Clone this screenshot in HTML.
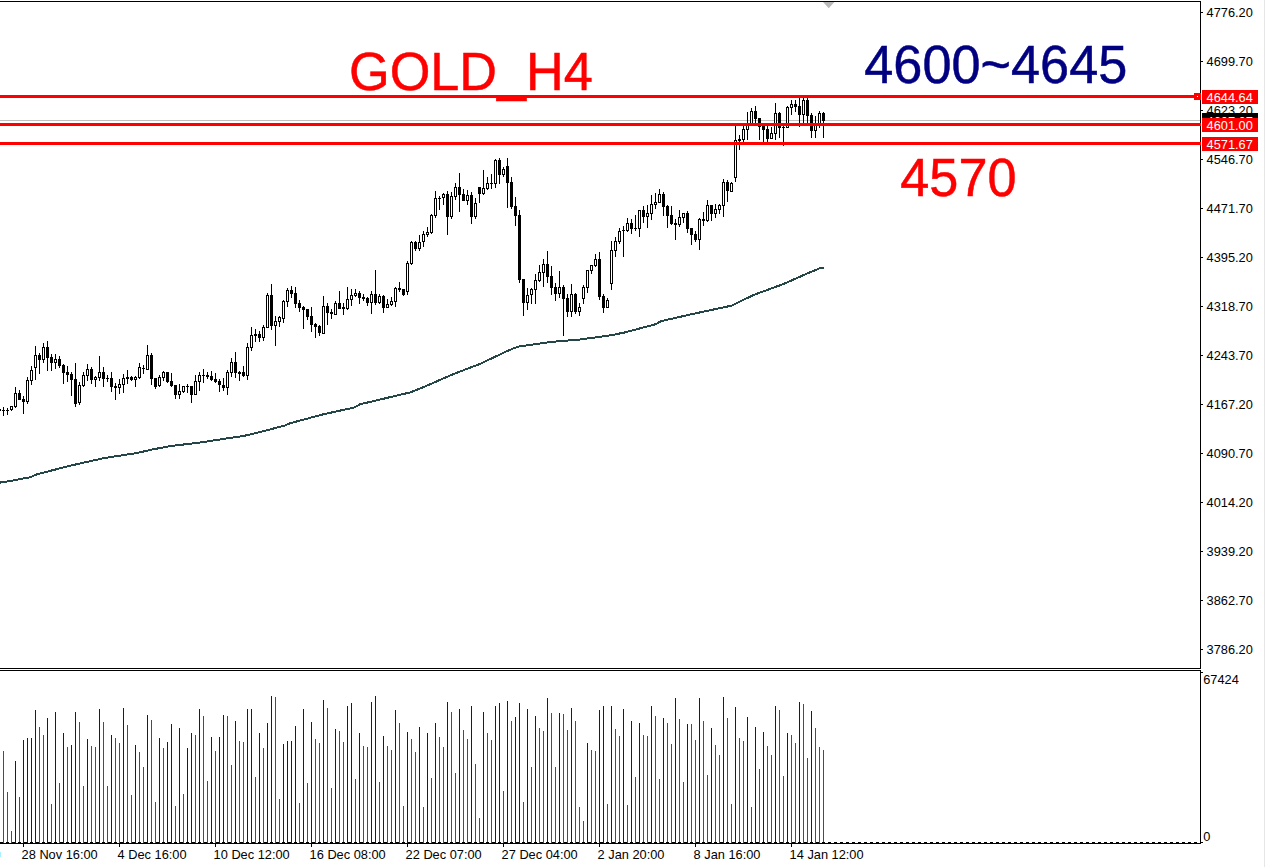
<!DOCTYPE html>
<html lang="en"><head><meta charset="utf-8"><title>GOLD_H4</title>
<style>html,body{margin:0;padding:0;background:#fff;overflow:hidden}svg{display:block}text{font-family:"Liberation Sans",Arial,sans-serif}.ax{font-size:12.8px;fill:#000}.lb{font-size:12.8px;fill:#fff}.big{font-size:54.1px}</style></head><body>
<svg width="1265" height="867" viewBox="0 0 1265 867">
<rect width="1265" height="867" fill="#fff"/>
<rect x="1264" y="0" width="1" height="867" fill="#e6e6e6" shape-rendering="crispEdges"/>
<g shape-rendering="crispEdges" fill="#000">
<rect x="0" y="1" width="1201" height="1"/>
<rect x="1200" y="1" width="1" height="668"/>
<rect x="0" y="668" width="1201" height="1"/>
<rect x="0" y="670" width="1201" height="1"/>
<rect x="1200" y="670" width="1" height="174"/>
<rect x="0" y="843" width="1201" height="1"/>
<rect x="1201" y="12" width="2" height="1"/>
<rect x="1201" y="61" width="2" height="1"/>
<rect x="1201" y="110" width="2" height="1"/>
<rect x="1201" y="159" width="2" height="1"/>
<rect x="1201" y="208" width="2" height="1"/>
<rect x="1201" y="257" width="2" height="1"/>
<rect x="1201" y="306" width="2" height="1"/>
<rect x="1201" y="355" width="2" height="1"/>
<rect x="1201" y="404" width="2" height="1"/>
<rect x="1201" y="453" width="2" height="1"/>
<rect x="1201" y="502" width="2" height="1"/>
<rect x="1201" y="551" width="2" height="1"/>
<rect x="1201" y="600" width="2" height="1"/>
<rect x="1201" y="649" width="2" height="1"/>
<rect x="1201" y="672" width="2" height="1"/>
<rect x="1201" y="842" width="2" height="1"/>
<rect x="23" y="844" width="1" height="3"/>
<rect x="119" y="844" width="1" height="3"/>
<rect x="215" y="844" width="1" height="3"/>
<rect x="311" y="844" width="1" height="3"/>
<rect x="407" y="844" width="1" height="3"/>
<rect x="503" y="844" width="1" height="3"/>
<rect x="599" y="844" width="1" height="3"/>
<rect x="695" y="844" width="1" height="3"/>
<rect x="791" y="844" width="1" height="3"/>
</g>
<rect x="0" y="120" width="1200" height="1" fill="#c0c0c0" shape-rendering="crispEdges"/>
<polygon points="823,2 834.5,2 828.7,8.3" fill="#b9b9b9"/>
<g shape-rendering="crispEdges">
<rect x="-1" y="409" width="1" height="2" fill="#000"/>
<rect x="-2" y="409" width="3" height="2" fill="#000"/>
<rect x="3" y="407" width="1" height="9" fill="#000"/>
<rect x="2" y="410" width="3" height="1" fill="#000"/>
<rect x="7" y="408" width="1" height="7" fill="#000"/>
<rect x="6" y="410" width="3" height="1" fill="#000"/>
<rect x="11" y="406" width="1" height="5" fill="#000"/>
<rect x="10" y="406" width="3" height="4" fill="#000"/>
<rect x="11" y="407" width="1" height="2" fill="#fff"/>
<rect x="15" y="387" width="1" height="21" fill="#000"/>
<rect x="14" y="393" width="3" height="14" fill="#000"/>
<rect x="15" y="394" width="1" height="12" fill="#fff"/>
<rect x="19" y="390" width="1" height="10" fill="#000"/>
<rect x="18" y="393" width="3" height="7" fill="#000"/>
<rect x="23" y="396" width="1" height="18" fill="#000"/>
<rect x="22" y="399" width="3" height="3" fill="#000"/>
<rect x="27" y="377" width="1" height="27" fill="#000"/>
<rect x="26" y="380" width="3" height="22" fill="#000"/>
<rect x="27" y="381" width="1" height="20" fill="#fff"/>
<rect x="31" y="366" width="1" height="19" fill="#000"/>
<rect x="30" y="370" width="3" height="11" fill="#000"/>
<rect x="31" y="371" width="1" height="9" fill="#fff"/>
<rect x="35" y="346" width="1" height="34" fill="#000"/>
<rect x="34" y="355" width="3" height="13" fill="#000"/>
<rect x="35" y="356" width="1" height="11" fill="#fff"/>
<rect x="39" y="353" width="1" height="21" fill="#000"/>
<rect x="38" y="355" width="3" height="5" fill="#000"/>
<rect x="43" y="343" width="1" height="20" fill="#000"/>
<rect x="42" y="347" width="3" height="13" fill="#000"/>
<rect x="43" y="348" width="1" height="11" fill="#fff"/>
<rect x="47" y="341" width="1" height="30" fill="#000"/>
<rect x="46" y="347" width="3" height="11" fill="#000"/>
<rect x="51" y="354" width="1" height="17" fill="#000"/>
<rect x="50" y="357" width="3" height="6" fill="#000"/>
<rect x="55" y="354" width="1" height="15" fill="#000"/>
<rect x="54" y="359" width="3" height="4" fill="#000"/>
<rect x="55" y="360" width="1" height="2" fill="#fff"/>
<rect x="59" y="356" width="1" height="12" fill="#000"/>
<rect x="58" y="359" width="3" height="7" fill="#000"/>
<rect x="63" y="364" width="1" height="20" fill="#000"/>
<rect x="62" y="365" width="3" height="8" fill="#000"/>
<rect x="67" y="366" width="1" height="16" fill="#000"/>
<rect x="66" y="372" width="3" height="3" fill="#000"/>
<rect x="71" y="372" width="1" height="24" fill="#000"/>
<rect x="70" y="374" width="3" height="6" fill="#000"/>
<rect x="75" y="363" width="1" height="44" fill="#000"/>
<rect x="74" y="379" width="3" height="25" fill="#000"/>
<rect x="79" y="382" width="1" height="23" fill="#000"/>
<rect x="78" y="385" width="3" height="18" fill="#000"/>
<rect x="79" y="386" width="1" height="16" fill="#fff"/>
<rect x="83" y="372" width="1" height="15" fill="#000"/>
<rect x="82" y="375" width="3" height="11" fill="#000"/>
<rect x="83" y="376" width="1" height="9" fill="#fff"/>
<rect x="87" y="364" width="1" height="17" fill="#000"/>
<rect x="86" y="369" width="3" height="7" fill="#000"/>
<rect x="87" y="370" width="1" height="5" fill="#fff"/>
<rect x="91" y="367" width="1" height="17" fill="#000"/>
<rect x="90" y="369" width="3" height="11" fill="#000"/>
<rect x="95" y="376" width="1" height="11" fill="#000"/>
<rect x="94" y="377" width="3" height="3" fill="#000"/>
<rect x="95" y="378" width="1" height="1" fill="#fff"/>
<rect x="99" y="356" width="1" height="25" fill="#000"/>
<rect x="98" y="372" width="3" height="6" fill="#000"/>
<rect x="99" y="373" width="1" height="4" fill="#fff"/>
<rect x="103" y="367" width="1" height="20" fill="#000"/>
<rect x="102" y="372" width="3" height="7" fill="#000"/>
<rect x="107" y="375" width="1" height="7" fill="#000"/>
<rect x="106" y="378" width="3" height="1" fill="#000"/>
<rect x="111" y="372" width="1" height="20" fill="#000"/>
<rect x="110" y="378" width="3" height="9" fill="#000"/>
<rect x="115" y="383" width="1" height="17" fill="#000"/>
<rect x="114" y="386" width="3" height="2" fill="#000"/>
<rect x="119" y="379" width="1" height="15" fill="#000"/>
<rect x="118" y="384" width="3" height="4" fill="#000"/>
<rect x="119" y="385" width="1" height="2" fill="#fff"/>
<rect x="123" y="374" width="1" height="19" fill="#000"/>
<rect x="122" y="378" width="3" height="7" fill="#000"/>
<rect x="123" y="379" width="1" height="5" fill="#fff"/>
<rect x="127" y="370" width="1" height="14" fill="#000"/>
<rect x="126" y="377" width="3" height="2" fill="#000"/>
<rect x="131" y="376" width="1" height="5" fill="#000"/>
<rect x="130" y="377" width="3" height="3" fill="#000"/>
<rect x="135" y="376" width="1" height="11" fill="#000"/>
<rect x="134" y="377" width="3" height="3" fill="#000"/>
<rect x="135" y="378" width="1" height="1" fill="#fff"/>
<rect x="139" y="363" width="1" height="16" fill="#000"/>
<rect x="138" y="367" width="3" height="11" fill="#000"/>
<rect x="139" y="368" width="1" height="9" fill="#fff"/>
<rect x="143" y="365" width="1" height="9" fill="#000"/>
<rect x="142" y="368" width="3" height="1" fill="#000"/>
<rect x="147" y="345" width="1" height="25" fill="#000"/>
<rect x="146" y="355" width="3" height="15" fill="#000"/>
<rect x="147" y="356" width="1" height="13" fill="#fff"/>
<rect x="151" y="353" width="1" height="32" fill="#000"/>
<rect x="150" y="355" width="3" height="24" fill="#000"/>
<rect x="155" y="378" width="1" height="11" fill="#000"/>
<rect x="154" y="378" width="3" height="9" fill="#000"/>
<rect x="159" y="375" width="1" height="12" fill="#000"/>
<rect x="158" y="377" width="3" height="9" fill="#000"/>
<rect x="159" y="378" width="1" height="7" fill="#fff"/>
<rect x="163" y="371" width="1" height="10" fill="#000"/>
<rect x="162" y="372" width="3" height="6" fill="#000"/>
<rect x="163" y="373" width="1" height="4" fill="#fff"/>
<rect x="167" y="372" width="1" height="11" fill="#000"/>
<rect x="166" y="372" width="3" height="10" fill="#000"/>
<rect x="171" y="373" width="1" height="14" fill="#000"/>
<rect x="170" y="381" width="3" height="5" fill="#000"/>
<rect x="175" y="385" width="1" height="14" fill="#000"/>
<rect x="174" y="385" width="3" height="10" fill="#000"/>
<rect x="179" y="384" width="1" height="15" fill="#000"/>
<rect x="178" y="391" width="3" height="4" fill="#000"/>
<rect x="179" y="392" width="1" height="2" fill="#fff"/>
<rect x="183" y="386" width="1" height="7" fill="#000"/>
<rect x="182" y="386" width="3" height="6" fill="#000"/>
<rect x="183" y="387" width="1" height="4" fill="#fff"/>
<rect x="187" y="384" width="1" height="9" fill="#000"/>
<rect x="186" y="386" width="3" height="1" fill="#000"/>
<rect x="191" y="386" width="1" height="17" fill="#000"/>
<rect x="190" y="386" width="3" height="9" fill="#000"/>
<rect x="195" y="375" width="1" height="20" fill="#000"/>
<rect x="194" y="381" width="3" height="14" fill="#000"/>
<rect x="195" y="382" width="1" height="12" fill="#fff"/>
<rect x="199" y="372" width="1" height="19" fill="#000"/>
<rect x="198" y="375" width="3" height="7" fill="#000"/>
<rect x="199" y="376" width="1" height="5" fill="#fff"/>
<rect x="203" y="369" width="1" height="14" fill="#000"/>
<rect x="202" y="375" width="3" height="1" fill="#000"/>
<rect x="207" y="372" width="1" height="7" fill="#000"/>
<rect x="206" y="375" width="3" height="2" fill="#000"/>
<rect x="211" y="371" width="1" height="10" fill="#000"/>
<rect x="210" y="376" width="3" height="4" fill="#000"/>
<rect x="215" y="373" width="1" height="10" fill="#000"/>
<rect x="214" y="379" width="3" height="3" fill="#000"/>
<rect x="219" y="379" width="1" height="13" fill="#000"/>
<rect x="218" y="381" width="3" height="4" fill="#000"/>
<rect x="223" y="378" width="1" height="13" fill="#000"/>
<rect x="222" y="385" width="3" height="3" fill="#000"/>
<rect x="227" y="370" width="1" height="25" fill="#000"/>
<rect x="226" y="372" width="3" height="16" fill="#000"/>
<rect x="227" y="373" width="1" height="14" fill="#fff"/>
<rect x="231" y="358" width="1" height="19" fill="#000"/>
<rect x="230" y="362" width="3" height="11" fill="#000"/>
<rect x="231" y="363" width="1" height="9" fill="#fff"/>
<rect x="235" y="352" width="1" height="26" fill="#000"/>
<rect x="234" y="362" width="3" height="11" fill="#000"/>
<rect x="239" y="371" width="1" height="10" fill="#000"/>
<rect x="238" y="372" width="3" height="2" fill="#000"/>
<rect x="243" y="366" width="1" height="11" fill="#000"/>
<rect x="242" y="372" width="3" height="4" fill="#000"/>
<rect x="247" y="343" width="1" height="37" fill="#000"/>
<rect x="246" y="347" width="3" height="29" fill="#000"/>
<rect x="247" y="348" width="1" height="27" fill="#fff"/>
<rect x="251" y="327" width="1" height="24" fill="#000"/>
<rect x="250" y="335" width="3" height="13" fill="#000"/>
<rect x="251" y="336" width="1" height="11" fill="#fff"/>
<rect x="255" y="329" width="1" height="13" fill="#000"/>
<rect x="254" y="334" width="3" height="2" fill="#000"/>
<rect x="259" y="331" width="1" height="11" fill="#000"/>
<rect x="258" y="334" width="3" height="4" fill="#000"/>
<rect x="263" y="325" width="1" height="16" fill="#000"/>
<rect x="262" y="327" width="3" height="11" fill="#000"/>
<rect x="263" y="328" width="1" height="9" fill="#fff"/>
<rect x="267" y="293" width="1" height="35" fill="#000"/>
<rect x="266" y="295" width="3" height="33" fill="#000"/>
<rect x="267" y="296" width="1" height="31" fill="#fff"/>
<rect x="271" y="284" width="1" height="46" fill="#000"/>
<rect x="270" y="295" width="3" height="31" fill="#000"/>
<rect x="275" y="316" width="1" height="30" fill="#000"/>
<rect x="274" y="321" width="3" height="5" fill="#000"/>
<rect x="275" y="322" width="1" height="3" fill="#fff"/>
<rect x="279" y="316" width="1" height="11" fill="#000"/>
<rect x="278" y="317" width="3" height="5" fill="#000"/>
<rect x="279" y="318" width="1" height="3" fill="#fff"/>
<rect x="283" y="300" width="1" height="23" fill="#000"/>
<rect x="282" y="301" width="3" height="18" fill="#000"/>
<rect x="283" y="302" width="1" height="16" fill="#fff"/>
<rect x="287" y="288" width="1" height="19" fill="#000"/>
<rect x="286" y="290" width="3" height="12" fill="#000"/>
<rect x="287" y="291" width="1" height="10" fill="#fff"/>
<rect x="291" y="286" width="1" height="12" fill="#000"/>
<rect x="290" y="290" width="3" height="4" fill="#000"/>
<rect x="295" y="287" width="1" height="21" fill="#000"/>
<rect x="294" y="293" width="3" height="11" fill="#000"/>
<rect x="299" y="300" width="1" height="12" fill="#000"/>
<rect x="298" y="303" width="3" height="5" fill="#000"/>
<rect x="303" y="306" width="1" height="23" fill="#000"/>
<rect x="302" y="307" width="3" height="3" fill="#000"/>
<rect x="307" y="309" width="1" height="11" fill="#000"/>
<rect x="306" y="309" width="3" height="8" fill="#000"/>
<rect x="311" y="307" width="1" height="25" fill="#000"/>
<rect x="310" y="316" width="3" height="9" fill="#000"/>
<rect x="315" y="323" width="1" height="15" fill="#000"/>
<rect x="314" y="324" width="3" height="3" fill="#000"/>
<rect x="319" y="325" width="1" height="11" fill="#000"/>
<rect x="318" y="326" width="3" height="7" fill="#000"/>
<rect x="323" y="296" width="1" height="38" fill="#000"/>
<rect x="322" y="306" width="3" height="28" fill="#000"/>
<rect x="323" y="307" width="1" height="26" fill="#fff"/>
<rect x="327" y="303" width="1" height="22" fill="#000"/>
<rect x="326" y="306" width="3" height="7" fill="#000"/>
<rect x="331" y="309" width="1" height="10" fill="#000"/>
<rect x="330" y="312" width="3" height="2" fill="#000"/>
<rect x="335" y="301" width="1" height="14" fill="#000"/>
<rect x="334" y="303" width="3" height="12" fill="#000"/>
<rect x="335" y="304" width="1" height="10" fill="#fff"/>
<rect x="339" y="291" width="1" height="18" fill="#000"/>
<rect x="338" y="303" width="3" height="6" fill="#000"/>
<rect x="343" y="303" width="1" height="12" fill="#000"/>
<rect x="342" y="307" width="3" height="2" fill="#000"/>
<rect x="347" y="287" width="1" height="23" fill="#000"/>
<rect x="346" y="299" width="3" height="10" fill="#000"/>
<rect x="347" y="300" width="1" height="8" fill="#fff"/>
<rect x="351" y="289" width="1" height="17" fill="#000"/>
<rect x="350" y="295" width="3" height="5" fill="#000"/>
<rect x="351" y="296" width="1" height="3" fill="#fff"/>
<rect x="355" y="289" width="1" height="8" fill="#000"/>
<rect x="354" y="293" width="3" height="3" fill="#000"/>
<rect x="355" y="294" width="1" height="1" fill="#fff"/>
<rect x="359" y="291" width="1" height="13" fill="#000"/>
<rect x="358" y="293" width="3" height="5" fill="#000"/>
<rect x="363" y="294" width="1" height="7" fill="#000"/>
<rect x="362" y="297" width="3" height="2" fill="#000"/>
<rect x="367" y="297" width="1" height="9" fill="#000"/>
<rect x="366" y="298" width="3" height="5" fill="#000"/>
<rect x="371" y="291" width="1" height="23" fill="#000"/>
<rect x="370" y="294" width="3" height="9" fill="#000"/>
<rect x="371" y="295" width="1" height="7" fill="#fff"/>
<rect x="375" y="270" width="1" height="35" fill="#000"/>
<rect x="374" y="294" width="3" height="9" fill="#000"/>
<rect x="379" y="294" width="1" height="10" fill="#000"/>
<rect x="378" y="296" width="3" height="7" fill="#000"/>
<rect x="379" y="297" width="1" height="5" fill="#fff"/>
<rect x="383" y="295" width="1" height="18" fill="#000"/>
<rect x="382" y="296" width="3" height="12" fill="#000"/>
<rect x="387" y="299" width="1" height="9" fill="#000"/>
<rect x="386" y="304" width="3" height="4" fill="#000"/>
<rect x="387" y="305" width="1" height="2" fill="#fff"/>
<rect x="391" y="297" width="1" height="9" fill="#000"/>
<rect x="390" y="301" width="3" height="4" fill="#000"/>
<rect x="391" y="302" width="1" height="2" fill="#fff"/>
<rect x="395" y="287" width="1" height="20" fill="#000"/>
<rect x="394" y="288" width="3" height="14" fill="#000"/>
<rect x="395" y="289" width="1" height="12" fill="#fff"/>
<rect x="399" y="282" width="1" height="10" fill="#000"/>
<rect x="398" y="288" width="3" height="2" fill="#000"/>
<rect x="403" y="289" width="1" height="7" fill="#000"/>
<rect x="402" y="289" width="3" height="6" fill="#000"/>
<rect x="407" y="261" width="1" height="34" fill="#000"/>
<rect x="406" y="263" width="3" height="29" fill="#000"/>
<rect x="407" y="264" width="1" height="27" fill="#fff"/>
<rect x="411" y="241" width="1" height="24" fill="#000"/>
<rect x="410" y="242" width="3" height="22" fill="#000"/>
<rect x="411" y="243" width="1" height="20" fill="#fff"/>
<rect x="415" y="241" width="1" height="10" fill="#000"/>
<rect x="414" y="242" width="3" height="7" fill="#000"/>
<rect x="419" y="235" width="1" height="16" fill="#000"/>
<rect x="418" y="242" width="3" height="7" fill="#000"/>
<rect x="419" y="243" width="1" height="5" fill="#fff"/>
<rect x="423" y="231" width="1" height="16" fill="#000"/>
<rect x="422" y="234" width="3" height="8" fill="#000"/>
<rect x="423" y="235" width="1" height="6" fill="#fff"/>
<rect x="427" y="227" width="1" height="10" fill="#000"/>
<rect x="426" y="232" width="3" height="3" fill="#000"/>
<rect x="427" y="233" width="1" height="1" fill="#fff"/>
<rect x="431" y="214" width="1" height="20" fill="#000"/>
<rect x="430" y="215" width="3" height="18" fill="#000"/>
<rect x="431" y="216" width="1" height="16" fill="#fff"/>
<rect x="435" y="191" width="1" height="27" fill="#000"/>
<rect x="434" y="198" width="3" height="18" fill="#000"/>
<rect x="435" y="199" width="1" height="16" fill="#fff"/>
<rect x="439" y="196" width="1" height="14" fill="#000"/>
<rect x="438" y="198" width="3" height="1" fill="#000"/>
<rect x="443" y="193" width="1" height="12" fill="#000"/>
<rect x="442" y="194" width="3" height="4" fill="#000"/>
<rect x="443" y="195" width="1" height="2" fill="#fff"/>
<rect x="447" y="191" width="1" height="44" fill="#000"/>
<rect x="446" y="194" width="3" height="23" fill="#000"/>
<rect x="451" y="192" width="1" height="27" fill="#000"/>
<rect x="450" y="196" width="3" height="21" fill="#000"/>
<rect x="451" y="197" width="1" height="19" fill="#fff"/>
<rect x="455" y="183" width="1" height="17" fill="#000"/>
<rect x="454" y="187" width="3" height="10" fill="#000"/>
<rect x="455" y="188" width="1" height="8" fill="#fff"/>
<rect x="459" y="173" width="1" height="39" fill="#000"/>
<rect x="458" y="187" width="3" height="8" fill="#000"/>
<rect x="463" y="189" width="1" height="12" fill="#000"/>
<rect x="462" y="194" width="3" height="7" fill="#000"/>
<rect x="467" y="190" width="1" height="15" fill="#000"/>
<rect x="466" y="195" width="3" height="6" fill="#000"/>
<rect x="467" y="196" width="1" height="4" fill="#fff"/>
<rect x="471" y="192" width="1" height="32" fill="#000"/>
<rect x="470" y="195" width="3" height="22" fill="#000"/>
<rect x="475" y="198" width="1" height="21" fill="#000"/>
<rect x="474" y="203" width="3" height="14" fill="#000"/>
<rect x="475" y="204" width="1" height="12" fill="#fff"/>
<rect x="479" y="187" width="1" height="16" fill="#000"/>
<rect x="478" y="187" width="3" height="7" fill="#000"/>
<rect x="483" y="170" width="1" height="25" fill="#000"/>
<rect x="482" y="188" width="3" height="6" fill="#000"/>
<rect x="483" y="189" width="1" height="4" fill="#fff"/>
<rect x="487" y="177" width="1" height="13" fill="#000"/>
<rect x="486" y="183" width="3" height="6" fill="#000"/>
<rect x="487" y="184" width="1" height="4" fill="#fff"/>
<rect x="491" y="174" width="1" height="15" fill="#000"/>
<rect x="490" y="183" width="3" height="1" fill="#000"/>
<rect x="495" y="159" width="1" height="29" fill="#000"/>
<rect x="494" y="160" width="3" height="24" fill="#000"/>
<rect x="495" y="161" width="1" height="22" fill="#fff"/>
<rect x="499" y="158" width="1" height="26" fill="#000"/>
<rect x="498" y="160" width="3" height="15" fill="#000"/>
<rect x="503" y="167" width="1" height="10" fill="#000"/>
<rect x="502" y="169" width="3" height="6" fill="#000"/>
<rect x="503" y="170" width="1" height="4" fill="#fff"/>
<rect x="507" y="158" width="1" height="50" fill="#000"/>
<rect x="506" y="166" width="3" height="17" fill="#000"/>
<rect x="511" y="177" width="1" height="32" fill="#000"/>
<rect x="510" y="182" width="3" height="25" fill="#000"/>
<rect x="515" y="197" width="1" height="29" fill="#000"/>
<rect x="514" y="206" width="3" height="10" fill="#000"/>
<rect x="519" y="210" width="1" height="73" fill="#000"/>
<rect x="518" y="215" width="3" height="65" fill="#000"/>
<rect x="523" y="279" width="1" height="37" fill="#000"/>
<rect x="522" y="279" width="3" height="24" fill="#000"/>
<rect x="527" y="288" width="1" height="22" fill="#000"/>
<rect x="526" y="295" width="3" height="8" fill="#000"/>
<rect x="527" y="296" width="1" height="6" fill="#fff"/>
<rect x="531" y="288" width="1" height="16" fill="#000"/>
<rect x="530" y="289" width="3" height="6" fill="#000"/>
<rect x="531" y="290" width="1" height="4" fill="#fff"/>
<rect x="535" y="274" width="1" height="30" fill="#000"/>
<rect x="534" y="280" width="3" height="10" fill="#000"/>
<rect x="535" y="281" width="1" height="8" fill="#fff"/>
<rect x="539" y="265" width="1" height="17" fill="#000"/>
<rect x="538" y="272" width="3" height="9" fill="#000"/>
<rect x="539" y="273" width="1" height="7" fill="#fff"/>
<rect x="543" y="259" width="1" height="28" fill="#000"/>
<rect x="542" y="264" width="3" height="9" fill="#000"/>
<rect x="543" y="265" width="1" height="7" fill="#fff"/>
<rect x="547" y="251" width="1" height="32" fill="#000"/>
<rect x="546" y="264" width="3" height="13" fill="#000"/>
<rect x="551" y="266" width="1" height="29" fill="#000"/>
<rect x="550" y="276" width="3" height="12" fill="#000"/>
<rect x="555" y="283" width="1" height="18" fill="#000"/>
<rect x="554" y="287" width="3" height="7" fill="#000"/>
<rect x="559" y="271" width="1" height="27" fill="#000"/>
<rect x="558" y="287" width="3" height="7" fill="#000"/>
<rect x="559" y="288" width="1" height="5" fill="#fff"/>
<rect x="563" y="285" width="1" height="51" fill="#000"/>
<rect x="562" y="287" width="3" height="12" fill="#000"/>
<rect x="567" y="294" width="1" height="23" fill="#000"/>
<rect x="566" y="298" width="3" height="14" fill="#000"/>
<rect x="571" y="284" width="1" height="33" fill="#000"/>
<rect x="570" y="294" width="3" height="18" fill="#000"/>
<rect x="571" y="295" width="1" height="16" fill="#fff"/>
<rect x="575" y="293" width="1" height="21" fill="#000"/>
<rect x="574" y="294" width="3" height="18" fill="#000"/>
<rect x="579" y="303" width="1" height="13" fill="#000"/>
<rect x="578" y="307" width="3" height="5" fill="#000"/>
<rect x="579" y="308" width="1" height="3" fill="#fff"/>
<rect x="583" y="285" width="1" height="19" fill="#000"/>
<rect x="582" y="287" width="3" height="12" fill="#000"/>
<rect x="583" y="288" width="1" height="10" fill="#fff"/>
<rect x="587" y="270" width="1" height="23" fill="#000"/>
<rect x="586" y="270" width="3" height="18" fill="#000"/>
<rect x="587" y="271" width="1" height="16" fill="#fff"/>
<rect x="591" y="265" width="1" height="9" fill="#000"/>
<rect x="590" y="265" width="3" height="6" fill="#000"/>
<rect x="591" y="266" width="1" height="4" fill="#fff"/>
<rect x="595" y="254" width="1" height="13" fill="#000"/>
<rect x="594" y="259" width="3" height="7" fill="#000"/>
<rect x="595" y="260" width="1" height="5" fill="#fff"/>
<rect x="599" y="252" width="1" height="48" fill="#000"/>
<rect x="598" y="259" width="3" height="38" fill="#000"/>
<rect x="603" y="294" width="1" height="19" fill="#000"/>
<rect x="602" y="296" width="3" height="12" fill="#000"/>
<rect x="607" y="298" width="1" height="10" fill="#000"/>
<rect x="606" y="300" width="3" height="8" fill="#000"/>
<rect x="607" y="301" width="1" height="6" fill="#fff"/>
<rect x="611" y="241" width="1" height="49" fill="#000"/>
<rect x="610" y="250" width="3" height="34" fill="#000"/>
<rect x="611" y="251" width="1" height="32" fill="#fff"/>
<rect x="615" y="237" width="1" height="20" fill="#000"/>
<rect x="614" y="241" width="3" height="10" fill="#000"/>
<rect x="615" y="242" width="1" height="8" fill="#fff"/>
<rect x="619" y="228" width="1" height="16" fill="#000"/>
<rect x="618" y="231" width="3" height="11" fill="#000"/>
<rect x="619" y="232" width="1" height="9" fill="#fff"/>
<rect x="623" y="226" width="1" height="31" fill="#000"/>
<rect x="622" y="230" width="3" height="1" fill="#000"/>
<rect x="627" y="218" width="1" height="14" fill="#000"/>
<rect x="626" y="223" width="3" height="8" fill="#000"/>
<rect x="627" y="224" width="1" height="6" fill="#fff"/>
<rect x="631" y="219" width="1" height="15" fill="#000"/>
<rect x="630" y="223" width="3" height="6" fill="#000"/>
<rect x="635" y="215" width="1" height="16" fill="#000"/>
<rect x="634" y="228" width="3" height="1" fill="#000"/>
<rect x="639" y="210" width="1" height="27" fill="#000"/>
<rect x="638" y="210" width="3" height="19" fill="#000"/>
<rect x="639" y="211" width="1" height="17" fill="#fff"/>
<rect x="643" y="206" width="1" height="17" fill="#000"/>
<rect x="642" y="210" width="3" height="7" fill="#000"/>
<rect x="647" y="205" width="1" height="23" fill="#000"/>
<rect x="646" y="213" width="3" height="4" fill="#000"/>
<rect x="647" y="214" width="1" height="2" fill="#fff"/>
<rect x="651" y="195" width="1" height="25" fill="#000"/>
<rect x="650" y="204" width="3" height="10" fill="#000"/>
<rect x="651" y="205" width="1" height="8" fill="#fff"/>
<rect x="655" y="193" width="1" height="16" fill="#000"/>
<rect x="654" y="202" width="3" height="3" fill="#000"/>
<rect x="655" y="203" width="1" height="1" fill="#fff"/>
<rect x="659" y="189" width="1" height="14" fill="#000"/>
<rect x="658" y="194" width="3" height="9" fill="#000"/>
<rect x="659" y="195" width="1" height="7" fill="#fff"/>
<rect x="663" y="192" width="1" height="24" fill="#000"/>
<rect x="662" y="194" width="3" height="13" fill="#000"/>
<rect x="667" y="205" width="1" height="23" fill="#000"/>
<rect x="666" y="206" width="3" height="10" fill="#000"/>
<rect x="671" y="206" width="1" height="19" fill="#000"/>
<rect x="670" y="215" width="3" height="9" fill="#000"/>
<rect x="675" y="219" width="1" height="21" fill="#000"/>
<rect x="674" y="223" width="3" height="2" fill="#000"/>
<rect x="679" y="210" width="1" height="17" fill="#000"/>
<rect x="678" y="217" width="3" height="8" fill="#000"/>
<rect x="679" y="218" width="1" height="6" fill="#fff"/>
<rect x="683" y="213" width="1" height="10" fill="#000"/>
<rect x="682" y="213" width="3" height="5" fill="#000"/>
<rect x="683" y="214" width="1" height="3" fill="#fff"/>
<rect x="687" y="211" width="1" height="22" fill="#000"/>
<rect x="686" y="213" width="3" height="16" fill="#000"/>
<rect x="691" y="228" width="1" height="17" fill="#000"/>
<rect x="690" y="228" width="3" height="7" fill="#000"/>
<rect x="695" y="231" width="1" height="11" fill="#000"/>
<rect x="694" y="234" width="3" height="6" fill="#000"/>
<rect x="699" y="218" width="1" height="32" fill="#000"/>
<rect x="698" y="219" width="3" height="21" fill="#000"/>
<rect x="699" y="220" width="1" height="19" fill="#fff"/>
<rect x="703" y="212" width="1" height="14" fill="#000"/>
<rect x="702" y="219" width="3" height="2" fill="#000"/>
<rect x="707" y="200" width="1" height="22" fill="#000"/>
<rect x="706" y="205" width="3" height="16" fill="#000"/>
<rect x="707" y="206" width="1" height="14" fill="#fff"/>
<rect x="711" y="205" width="1" height="16" fill="#000"/>
<rect x="710" y="205" width="3" height="9" fill="#000"/>
<rect x="715" y="204" width="1" height="14" fill="#000"/>
<rect x="714" y="209" width="3" height="5" fill="#000"/>
<rect x="715" y="210" width="1" height="3" fill="#fff"/>
<rect x="719" y="204" width="1" height="10" fill="#000"/>
<rect x="718" y="205" width="3" height="5" fill="#000"/>
<rect x="719" y="206" width="1" height="3" fill="#fff"/>
<rect x="723" y="179" width="1" height="38" fill="#000"/>
<rect x="722" y="182" width="3" height="24" fill="#000"/>
<rect x="723" y="183" width="1" height="22" fill="#fff"/>
<rect x="727" y="180" width="1" height="22" fill="#000"/>
<rect x="726" y="182" width="3" height="9" fill="#000"/>
<rect x="731" y="182" width="1" height="10" fill="#000"/>
<rect x="730" y="183" width="3" height="9" fill="#000"/>
<rect x="731" y="184" width="1" height="7" fill="#fff"/>
<rect x="735" y="126" width="1" height="56" fill="#000"/>
<rect x="734" y="140" width="3" height="38" fill="#000"/>
<rect x="735" y="141" width="1" height="36" fill="#fff"/>
<rect x="739" y="135" width="1" height="15" fill="#000"/>
<rect x="738" y="139" width="3" height="2" fill="#000"/>
<rect x="743" y="126" width="1" height="16" fill="#000"/>
<rect x="742" y="129" width="3" height="11" fill="#000"/>
<rect x="743" y="130" width="1" height="9" fill="#fff"/>
<rect x="747" y="112" width="1" height="28" fill="#000"/>
<rect x="746" y="123" width="3" height="7" fill="#000"/>
<rect x="747" y="124" width="1" height="5" fill="#fff"/>
<rect x="751" y="108" width="1" height="17" fill="#000"/>
<rect x="750" y="111" width="3" height="13" fill="#000"/>
<rect x="751" y="112" width="1" height="11" fill="#fff"/>
<rect x="755" y="106" width="1" height="17" fill="#000"/>
<rect x="754" y="111" width="3" height="8" fill="#000"/>
<rect x="759" y="118" width="1" height="22" fill="#000"/>
<rect x="758" y="118" width="3" height="9" fill="#000"/>
<rect x="763" y="124" width="1" height="18" fill="#000"/>
<rect x="762" y="125" width="3" height="5" fill="#000"/>
<rect x="767" y="126" width="1" height="16" fill="#000"/>
<rect x="766" y="129" width="3" height="10" fill="#000"/>
<rect x="771" y="127" width="1" height="12" fill="#000"/>
<rect x="770" y="133" width="3" height="6" fill="#000"/>
<rect x="771" y="134" width="1" height="4" fill="#fff"/>
<rect x="775" y="103" width="1" height="37" fill="#000"/>
<rect x="774" y="113" width="3" height="21" fill="#000"/>
<rect x="775" y="114" width="1" height="19" fill="#fff"/>
<rect x="779" y="112" width="1" height="26" fill="#000"/>
<rect x="778" y="113" width="3" height="15" fill="#000"/>
<rect x="783" y="125" width="1" height="21" fill="#000"/>
<rect x="782" y="127" width="3" height="1" fill="#000"/>
<rect x="787" y="106" width="1" height="22" fill="#000"/>
<rect x="786" y="107" width="3" height="21" fill="#000"/>
<rect x="787" y="108" width="1" height="19" fill="#fff"/>
<rect x="791" y="100" width="1" height="15" fill="#000"/>
<rect x="790" y="104" width="3" height="4" fill="#000"/>
<rect x="791" y="105" width="1" height="2" fill="#fff"/>
<rect x="795" y="100" width="1" height="12" fill="#000"/>
<rect x="794" y="104" width="3" height="3" fill="#000"/>
<rect x="799" y="96" width="1" height="31" fill="#000"/>
<rect x="798" y="106" width="3" height="9" fill="#000"/>
<rect x="803" y="96" width="1" height="27" fill="#000"/>
<rect x="802" y="100" width="3" height="15" fill="#000"/>
<rect x="803" y="101" width="1" height="13" fill="#fff"/>
<rect x="807" y="96" width="1" height="27" fill="#000"/>
<rect x="806" y="100" width="3" height="16" fill="#000"/>
<rect x="811" y="113" width="1" height="25" fill="#000"/>
<rect x="810" y="115" width="3" height="16" fill="#000"/>
<rect x="815" y="116" width="1" height="22" fill="#000"/>
<rect x="814" y="123" width="3" height="8" fill="#000"/>
<rect x="815" y="124" width="1" height="6" fill="#fff"/>
<rect x="819" y="111" width="1" height="17" fill="#000"/>
<rect x="818" y="113" width="3" height="11" fill="#000"/>
<rect x="819" y="114" width="1" height="9" fill="#fff"/>
<rect x="823" y="112" width="1" height="26" fill="#000"/>
<rect x="822" y="113" width="3" height="8" fill="#000"/>
</g>
<g shape-rendering="crispEdges">
<rect x="3" y="751" width="1" height="92" fill="#ff0000"/>
<rect x="7" y="792" width="1" height="51" fill="#ff0000"/>
<rect x="11" y="831" width="1" height="12" fill="#ff0000"/>
<rect x="15" y="761" width="1" height="82" fill="#0000ff"/>
<rect x="19" y="797" width="1" height="46" fill="#ff0000"/>
<rect x="23" y="740" width="1" height="103" fill="#0000ff"/>
<rect x="27" y="738" width="1" height="105" fill="#0000ff"/>
<rect x="31" y="738" width="1" height="105" fill="#0000ff"/>
<rect x="35" y="710" width="1" height="133" fill="#0000ff"/>
<rect x="39" y="727" width="1" height="116" fill="#ff0000"/>
<rect x="43" y="735" width="1" height="108" fill="#ff0000"/>
<rect x="47" y="718" width="1" height="125" fill="#0000ff"/>
<rect x="51" y="804" width="1" height="39" fill="#ff0000"/>
<rect x="55" y="712" width="1" height="131" fill="#0000ff"/>
<rect x="59" y="783" width="1" height="60" fill="#ff0000"/>
<rect x="63" y="733" width="1" height="110" fill="#0000ff"/>
<rect x="67" y="747" width="1" height="96" fill="#ff0000"/>
<rect x="71" y="745" width="1" height="98" fill="#0000ff"/>
<rect x="75" y="712" width="1" height="131" fill="#0000ff"/>
<rect x="79" y="722" width="1" height="121" fill="#ff0000"/>
<rect x="83" y="786" width="1" height="57" fill="#ff0000"/>
<rect x="87" y="739" width="1" height="104" fill="#0000ff"/>
<rect x="91" y="746" width="1" height="97" fill="#ff0000"/>
<rect x="95" y="747" width="1" height="96" fill="#ff0000"/>
<rect x="99" y="709" width="1" height="134" fill="#0000ff"/>
<rect x="103" y="722" width="1" height="121" fill="#ff0000"/>
<rect x="107" y="786" width="1" height="57" fill="#ff0000"/>
<rect x="111" y="735" width="1" height="108" fill="#0000ff"/>
<rect x="115" y="738" width="1" height="105" fill="#ff0000"/>
<rect x="119" y="743" width="1" height="100" fill="#ff0000"/>
<rect x="123" y="708" width="1" height="135" fill="#0000ff"/>
<rect x="127" y="725" width="1" height="118" fill="#ff0000"/>
<rect x="131" y="795" width="1" height="48" fill="#ff0000"/>
<rect x="135" y="745" width="1" height="98" fill="#0000ff"/>
<rect x="139" y="752" width="1" height="91" fill="#ff0000"/>
<rect x="143" y="767" width="1" height="76" fill="#ff0000"/>
<rect x="147" y="715" width="1" height="128" fill="#0000ff"/>
<rect x="151" y="720" width="1" height="123" fill="#ff0000"/>
<rect x="155" y="802" width="1" height="41" fill="#ff0000"/>
<rect x="159" y="738" width="1" height="105" fill="#0000ff"/>
<rect x="163" y="748" width="1" height="95" fill="#ff0000"/>
<rect x="167" y="742" width="1" height="101" fill="#0000ff"/>
<rect x="171" y="724" width="1" height="119" fill="#0000ff"/>
<rect x="175" y="806" width="1" height="37" fill="#ff0000"/>
<rect x="179" y="728" width="1" height="115" fill="#0000ff"/>
<rect x="183" y="794" width="1" height="49" fill="#ff0000"/>
<rect x="187" y="748" width="1" height="95" fill="#0000ff"/>
<rect x="191" y="733" width="1" height="110" fill="#0000ff"/>
<rect x="195" y="735" width="1" height="108" fill="#ff0000"/>
<rect x="199" y="709" width="1" height="134" fill="#0000ff"/>
<rect x="203" y="716" width="1" height="127" fill="#ff0000"/>
<rect x="207" y="781" width="1" height="62" fill="#ff0000"/>
<rect x="211" y="737" width="1" height="106" fill="#0000ff"/>
<rect x="215" y="751" width="1" height="92" fill="#ff0000"/>
<rect x="219" y="737" width="1" height="106" fill="#0000ff"/>
<rect x="223" y="715" width="1" height="128" fill="#0000ff"/>
<rect x="227" y="716" width="1" height="127" fill="#ff0000"/>
<rect x="231" y="765" width="1" height="78" fill="#ff0000"/>
<rect x="235" y="721" width="1" height="122" fill="#0000ff"/>
<rect x="239" y="741" width="1" height="102" fill="#ff0000"/>
<rect x="243" y="742" width="1" height="101" fill="#ff0000"/>
<rect x="247" y="709" width="1" height="134" fill="#0000ff"/>
<rect x="251" y="709" width="1" height="134" fill="#0000ff"/>
<rect x="255" y="777" width="1" height="66" fill="#ff0000"/>
<rect x="259" y="733" width="1" height="110" fill="#0000ff"/>
<rect x="263" y="748" width="1" height="95" fill="#ff0000"/>
<rect x="267" y="723" width="1" height="120" fill="#0000ff"/>
<rect x="271" y="696" width="1" height="147" fill="#0000ff"/>
<rect x="275" y="697" width="1" height="146" fill="#ff0000"/>
<rect x="279" y="799" width="1" height="44" fill="#ff0000"/>
<rect x="283" y="744" width="1" height="99" fill="#0000ff"/>
<rect x="287" y="741" width="1" height="102" fill="#0000ff"/>
<rect x="291" y="741" width="1" height="102" fill="#0000ff"/>
<rect x="295" y="726" width="1" height="117" fill="#0000ff"/>
<rect x="299" y="803" width="1" height="40" fill="#ff0000"/>
<rect x="303" y="709" width="1" height="134" fill="#0000ff"/>
<rect x="307" y="783" width="1" height="60" fill="#ff0000"/>
<rect x="311" y="722" width="1" height="121" fill="#0000ff"/>
<rect x="315" y="739" width="1" height="104" fill="#ff0000"/>
<rect x="319" y="743" width="1" height="100" fill="#ff0000"/>
<rect x="323" y="700" width="1" height="143" fill="#0000ff"/>
<rect x="327" y="708" width="1" height="135" fill="#ff0000"/>
<rect x="331" y="788" width="1" height="55" fill="#ff0000"/>
<rect x="335" y="729" width="1" height="114" fill="#0000ff"/>
<rect x="339" y="731" width="1" height="112" fill="#ff0000"/>
<rect x="343" y="742" width="1" height="101" fill="#ff0000"/>
<rect x="347" y="706" width="1" height="137" fill="#0000ff"/>
<rect x="351" y="703" width="1" height="140" fill="#0000ff"/>
<rect x="355" y="779" width="1" height="64" fill="#ff0000"/>
<rect x="359" y="733" width="1" height="110" fill="#0000ff"/>
<rect x="363" y="746" width="1" height="97" fill="#ff0000"/>
<rect x="367" y="747" width="1" height="96" fill="#ff0000"/>
<rect x="371" y="702" width="1" height="141" fill="#0000ff"/>
<rect x="375" y="696" width="1" height="147" fill="#0000ff"/>
<rect x="379" y="782" width="1" height="61" fill="#ff0000"/>
<rect x="383" y="736" width="1" height="107" fill="#0000ff"/>
<rect x="387" y="746" width="1" height="97" fill="#ff0000"/>
<rect x="391" y="750" width="1" height="93" fill="#ff0000"/>
<rect x="395" y="710" width="1" height="133" fill="#0000ff"/>
<rect x="399" y="723" width="1" height="120" fill="#ff0000"/>
<rect x="403" y="806" width="1" height="37" fill="#ff0000"/>
<rect x="407" y="732" width="1" height="111" fill="#0000ff"/>
<rect x="411" y="739" width="1" height="104" fill="#ff0000"/>
<rect x="415" y="752" width="1" height="91" fill="#ff0000"/>
<rect x="419" y="727" width="1" height="116" fill="#0000ff"/>
<rect x="423" y="807" width="1" height="36" fill="#ff0000"/>
<rect x="427" y="733" width="1" height="110" fill="#0000ff"/>
<rect x="431" y="778" width="1" height="65" fill="#ff0000"/>
<rect x="435" y="723" width="1" height="120" fill="#0000ff"/>
<rect x="439" y="737" width="1" height="106" fill="#ff0000"/>
<rect x="443" y="747" width="1" height="96" fill="#ff0000"/>
<rect x="447" y="702" width="1" height="141" fill="#0000ff"/>
<rect x="451" y="712" width="1" height="131" fill="#ff0000"/>
<rect x="455" y="773" width="1" height="70" fill="#ff0000"/>
<rect x="459" y="709" width="1" height="134" fill="#0000ff"/>
<rect x="463" y="730" width="1" height="113" fill="#ff0000"/>
<rect x="467" y="739" width="1" height="104" fill="#ff0000"/>
<rect x="471" y="706" width="1" height="137" fill="#0000ff"/>
<rect x="475" y="764" width="1" height="79" fill="#ff0000"/>
<rect x="479" y="818" width="1" height="25" fill="#ff0000"/>
<rect x="483" y="712" width="1" height="131" fill="#0000ff"/>
<rect x="487" y="733" width="1" height="110" fill="#ff0000"/>
<rect x="491" y="740" width="1" height="103" fill="#ff0000"/>
<rect x="495" y="706" width="1" height="137" fill="#0000ff"/>
<rect x="499" y="703" width="1" height="140" fill="#0000ff"/>
<rect x="503" y="791" width="1" height="52" fill="#ff0000"/>
<rect x="507" y="701" width="1" height="142" fill="#0000ff"/>
<rect x="511" y="721" width="1" height="122" fill="#ff0000"/>
<rect x="515" y="717" width="1" height="126" fill="#0000ff"/>
<rect x="519" y="703" width="1" height="140" fill="#0000ff"/>
<rect x="523" y="802" width="1" height="41" fill="#ff0000"/>
<rect x="527" y="709" width="1" height="134" fill="#0000ff"/>
<rect x="531" y="767" width="1" height="76" fill="#ff0000"/>
<rect x="535" y="716" width="1" height="127" fill="#0000ff"/>
<rect x="539" y="728" width="1" height="115" fill="#ff0000"/>
<rect x="543" y="731" width="1" height="112" fill="#ff0000"/>
<rect x="547" y="698" width="1" height="145" fill="#0000ff"/>
<rect x="551" y="713" width="1" height="130" fill="#ff0000"/>
<rect x="555" y="767" width="1" height="76" fill="#ff0000"/>
<rect x="559" y="713" width="1" height="130" fill="#0000ff"/>
<rect x="563" y="714" width="1" height="129" fill="#ff0000"/>
<rect x="567" y="730" width="1" height="113" fill="#ff0000"/>
<rect x="571" y="708" width="1" height="135" fill="#0000ff"/>
<rect x="575" y="721" width="1" height="122" fill="#ff0000"/>
<rect x="579" y="807" width="1" height="36" fill="#ff0000"/>
<rect x="583" y="821" width="1" height="22" fill="#ff0000"/>
<rect x="587" y="743" width="1" height="100" fill="#0000ff"/>
<rect x="591" y="750" width="1" height="93" fill="#ff0000"/>
<rect x="595" y="751" width="1" height="92" fill="#ff0000"/>
<rect x="599" y="710" width="1" height="133" fill="#0000ff"/>
<rect x="603" y="706" width="1" height="137" fill="#0000ff"/>
<rect x="607" y="804" width="1" height="39" fill="#ff0000"/>
<rect x="611" y="706" width="1" height="137" fill="#0000ff"/>
<rect x="615" y="729" width="1" height="114" fill="#ff0000"/>
<rect x="619" y="736" width="1" height="107" fill="#ff0000"/>
<rect x="623" y="709" width="1" height="134" fill="#0000ff"/>
<rect x="627" y="805" width="1" height="38" fill="#ff0000"/>
<rect x="631" y="721" width="1" height="122" fill="#0000ff"/>
<rect x="635" y="777" width="1" height="66" fill="#ff0000"/>
<rect x="639" y="723" width="1" height="120" fill="#0000ff"/>
<rect x="643" y="735" width="1" height="108" fill="#ff0000"/>
<rect x="647" y="736" width="1" height="107" fill="#ff0000"/>
<rect x="651" y="706" width="1" height="137" fill="#0000ff"/>
<rect x="655" y="716" width="1" height="127" fill="#ff0000"/>
<rect x="659" y="779" width="1" height="64" fill="#ff0000"/>
<rect x="663" y="718" width="1" height="125" fill="#0000ff"/>
<rect x="667" y="723" width="1" height="120" fill="#ff0000"/>
<rect x="671" y="744" width="1" height="99" fill="#ff0000"/>
<rect x="675" y="698" width="1" height="145" fill="#0000ff"/>
<rect x="679" y="719" width="1" height="124" fill="#ff0000"/>
<rect x="683" y="782" width="1" height="61" fill="#ff0000"/>
<rect x="687" y="724" width="1" height="119" fill="#0000ff"/>
<rect x="691" y="724" width="1" height="119" fill="#ff0000"/>
<rect x="695" y="740" width="1" height="103" fill="#ff0000"/>
<rect x="699" y="698" width="1" height="145" fill="#0000ff"/>
<rect x="703" y="721" width="1" height="122" fill="#ff0000"/>
<rect x="707" y="775" width="1" height="68" fill="#ff0000"/>
<rect x="711" y="728" width="1" height="115" fill="#0000ff"/>
<rect x="715" y="745" width="1" height="98" fill="#ff0000"/>
<rect x="719" y="755" width="1" height="88" fill="#ff0000"/>
<rect x="723" y="697" width="1" height="146" fill="#0000ff"/>
<rect x="727" y="718" width="1" height="125" fill="#ff0000"/>
<rect x="731" y="804" width="1" height="39" fill="#ff0000"/>
<rect x="735" y="707" width="1" height="136" fill="#0000ff"/>
<rect x="739" y="738" width="1" height="105" fill="#ff0000"/>
<rect x="743" y="741" width="1" height="102" fill="#ff0000"/>
<rect x="747" y="717" width="1" height="126" fill="#0000ff"/>
<rect x="751" y="807" width="1" height="36" fill="#ff0000"/>
<rect x="755" y="727" width="1" height="116" fill="#0000ff"/>
<rect x="759" y="769" width="1" height="74" fill="#ff0000"/>
<rect x="763" y="732" width="1" height="111" fill="#0000ff"/>
<rect x="767" y="746" width="1" height="97" fill="#ff0000"/>
<rect x="771" y="755" width="1" height="88" fill="#ff0000"/>
<rect x="775" y="706" width="1" height="137" fill="#0000ff"/>
<rect x="779" y="710" width="1" height="133" fill="#ff0000"/>
<rect x="783" y="776" width="1" height="67" fill="#ff0000"/>
<rect x="787" y="733" width="1" height="110" fill="#0000ff"/>
<rect x="791" y="735" width="1" height="108" fill="#ff0000"/>
<rect x="795" y="743" width="1" height="100" fill="#ff0000"/>
<rect x="799" y="702" width="1" height="141" fill="#0000ff"/>
<rect x="803" y="704" width="1" height="139" fill="#ff0000"/>
<rect x="807" y="758" width="1" height="85" fill="#ff0000"/>
<rect x="811" y="711" width="1" height="132" fill="#0000ff"/>
<rect x="815" y="728" width="1" height="115" fill="#ff0000"/>
<rect x="819" y="747" width="1" height="96" fill="#ff0000"/>
<rect x="823" y="750" width="1" height="93" fill="#ff0000"/>
</g>
<g shape-rendering="crispEdges" fill="#000">
<rect x="0" y="842" width="3" height="1"/>
<rect x="6" y="842" width="3" height="1"/>
<rect x="12" y="842" width="3" height="1"/>
<rect x="18" y="842" width="3" height="1"/>
<rect x="24" y="842" width="3" height="1"/>
<rect x="30" y="842" width="3" height="1"/>
<rect x="36" y="842" width="3" height="1"/>
<rect x="42" y="842" width="3" height="1"/>
<rect x="48" y="842" width="3" height="1"/>
<rect x="54" y="842" width="3" height="1"/>
<rect x="60" y="842" width="3" height="1"/>
<rect x="66" y="842" width="3" height="1"/>
<rect x="72" y="842" width="3" height="1"/>
<rect x="78" y="842" width="3" height="1"/>
<rect x="84" y="842" width="3" height="1"/>
<rect x="90" y="842" width="3" height="1"/>
<rect x="96" y="842" width="3" height="1"/>
<rect x="102" y="842" width="3" height="1"/>
<rect x="108" y="842" width="3" height="1"/>
<rect x="114" y="842" width="3" height="1"/>
<rect x="120" y="842" width="3" height="1"/>
<rect x="126" y="842" width="3" height="1"/>
<rect x="132" y="842" width="3" height="1"/>
<rect x="138" y="842" width="3" height="1"/>
<rect x="144" y="842" width="3" height="1"/>
<rect x="150" y="842" width="3" height="1"/>
<rect x="156" y="842" width="3" height="1"/>
<rect x="162" y="842" width="3" height="1"/>
<rect x="168" y="842" width="3" height="1"/>
<rect x="174" y="842" width="3" height="1"/>
<rect x="180" y="842" width="3" height="1"/>
<rect x="186" y="842" width="3" height="1"/>
<rect x="192" y="842" width="3" height="1"/>
<rect x="198" y="842" width="3" height="1"/>
<rect x="204" y="842" width="3" height="1"/>
<rect x="210" y="842" width="3" height="1"/>
<rect x="216" y="842" width="3" height="1"/>
<rect x="222" y="842" width="3" height="1"/>
<rect x="228" y="842" width="3" height="1"/>
<rect x="234" y="842" width="3" height="1"/>
<rect x="240" y="842" width="3" height="1"/>
<rect x="246" y="842" width="3" height="1"/>
<rect x="252" y="842" width="3" height="1"/>
<rect x="258" y="842" width="3" height="1"/>
<rect x="264" y="842" width="3" height="1"/>
<rect x="270" y="842" width="3" height="1"/>
<rect x="276" y="842" width="3" height="1"/>
<rect x="282" y="842" width="3" height="1"/>
<rect x="288" y="842" width="3" height="1"/>
<rect x="294" y="842" width="3" height="1"/>
<rect x="300" y="842" width="3" height="1"/>
<rect x="306" y="842" width="3" height="1"/>
<rect x="312" y="842" width="3" height="1"/>
<rect x="318" y="842" width="3" height="1"/>
<rect x="324" y="842" width="3" height="1"/>
<rect x="330" y="842" width="3" height="1"/>
<rect x="336" y="842" width="3" height="1"/>
<rect x="342" y="842" width="3" height="1"/>
<rect x="348" y="842" width="3" height="1"/>
<rect x="354" y="842" width="3" height="1"/>
<rect x="360" y="842" width="3" height="1"/>
<rect x="366" y="842" width="3" height="1"/>
<rect x="372" y="842" width="3" height="1"/>
<rect x="378" y="842" width="3" height="1"/>
<rect x="384" y="842" width="3" height="1"/>
<rect x="390" y="842" width="3" height="1"/>
<rect x="396" y="842" width="3" height="1"/>
<rect x="402" y="842" width="3" height="1"/>
<rect x="408" y="842" width="3" height="1"/>
<rect x="414" y="842" width="3" height="1"/>
<rect x="420" y="842" width="3" height="1"/>
<rect x="426" y="842" width="3" height="1"/>
<rect x="432" y="842" width="3" height="1"/>
<rect x="438" y="842" width="3" height="1"/>
<rect x="444" y="842" width="3" height="1"/>
<rect x="450" y="842" width="3" height="1"/>
<rect x="456" y="842" width="3" height="1"/>
<rect x="462" y="842" width="3" height="1"/>
<rect x="468" y="842" width="3" height="1"/>
<rect x="474" y="842" width="3" height="1"/>
<rect x="480" y="842" width="3" height="1"/>
<rect x="486" y="842" width="3" height="1"/>
<rect x="492" y="842" width="3" height="1"/>
<rect x="498" y="842" width="3" height="1"/>
<rect x="504" y="842" width="3" height="1"/>
<rect x="510" y="842" width="3" height="1"/>
<rect x="516" y="842" width="3" height="1"/>
<rect x="522" y="842" width="3" height="1"/>
<rect x="528" y="842" width="3" height="1"/>
<rect x="534" y="842" width="3" height="1"/>
<rect x="540" y="842" width="3" height="1"/>
<rect x="546" y="842" width="3" height="1"/>
<rect x="552" y="842" width="3" height="1"/>
<rect x="558" y="842" width="3" height="1"/>
<rect x="564" y="842" width="3" height="1"/>
<rect x="570" y="842" width="3" height="1"/>
<rect x="576" y="842" width="3" height="1"/>
<rect x="582" y="842" width="3" height="1"/>
<rect x="588" y="842" width="3" height="1"/>
<rect x="594" y="842" width="3" height="1"/>
<rect x="600" y="842" width="3" height="1"/>
<rect x="606" y="842" width="3" height="1"/>
<rect x="612" y="842" width="3" height="1"/>
<rect x="618" y="842" width="3" height="1"/>
<rect x="624" y="842" width="3" height="1"/>
<rect x="630" y="842" width="3" height="1"/>
<rect x="636" y="842" width="3" height="1"/>
<rect x="642" y="842" width="3" height="1"/>
<rect x="648" y="842" width="3" height="1"/>
<rect x="654" y="842" width="3" height="1"/>
<rect x="660" y="842" width="3" height="1"/>
<rect x="666" y="842" width="3" height="1"/>
<rect x="672" y="842" width="3" height="1"/>
<rect x="678" y="842" width="3" height="1"/>
<rect x="684" y="842" width="3" height="1"/>
<rect x="690" y="842" width="3" height="1"/>
<rect x="696" y="842" width="3" height="1"/>
<rect x="702" y="842" width="3" height="1"/>
<rect x="708" y="842" width="3" height="1"/>
<rect x="714" y="842" width="3" height="1"/>
<rect x="720" y="842" width="3" height="1"/>
<rect x="726" y="842" width="3" height="1"/>
<rect x="732" y="842" width="3" height="1"/>
<rect x="738" y="842" width="3" height="1"/>
<rect x="744" y="842" width="3" height="1"/>
<rect x="750" y="842" width="3" height="1"/>
<rect x="756" y="842" width="3" height="1"/>
<rect x="762" y="842" width="3" height="1"/>
<rect x="768" y="842" width="3" height="1"/>
<rect x="774" y="842" width="3" height="1"/>
<rect x="780" y="842" width="3" height="1"/>
<rect x="786" y="842" width="3" height="1"/>
<rect x="792" y="842" width="3" height="1"/>
<rect x="798" y="842" width="3" height="1"/>
<rect x="804" y="842" width="3" height="1"/>
<rect x="810" y="842" width="3" height="1"/>
<rect x="816" y="842" width="3" height="1"/>
<rect x="822" y="842" width="3" height="1"/>
<rect x="828" y="842" width="3" height="1"/>
<rect x="834" y="842" width="3" height="1"/>
<rect x="840" y="842" width="3" height="1"/>
<rect x="846" y="842" width="3" height="1"/>
<rect x="852" y="842" width="3" height="1"/>
<rect x="858" y="842" width="3" height="1"/>
<rect x="864" y="842" width="3" height="1"/>
<rect x="870" y="842" width="3" height="1"/>
<rect x="876" y="842" width="3" height="1"/>
<rect x="882" y="842" width="3" height="1"/>
<rect x="888" y="842" width="3" height="1"/>
<rect x="894" y="842" width="3" height="1"/>
<rect x="900" y="842" width="3" height="1"/>
<rect x="906" y="842" width="3" height="1"/>
<rect x="912" y="842" width="3" height="1"/>
<rect x="918" y="842" width="3" height="1"/>
<rect x="924" y="842" width="3" height="1"/>
<rect x="930" y="842" width="3" height="1"/>
<rect x="936" y="842" width="3" height="1"/>
<rect x="942" y="842" width="3" height="1"/>
<rect x="948" y="842" width="3" height="1"/>
<rect x="954" y="842" width="3" height="1"/>
<rect x="960" y="842" width="3" height="1"/>
<rect x="966" y="842" width="3" height="1"/>
<rect x="972" y="842" width="3" height="1"/>
<rect x="978" y="842" width="3" height="1"/>
<rect x="984" y="842" width="3" height="1"/>
<rect x="990" y="842" width="3" height="1"/>
<rect x="996" y="842" width="3" height="1"/>
<rect x="1002" y="842" width="3" height="1"/>
<rect x="1008" y="842" width="3" height="1"/>
<rect x="1014" y="842" width="3" height="1"/>
<rect x="1020" y="842" width="3" height="1"/>
<rect x="1026" y="842" width="3" height="1"/>
<rect x="1032" y="842" width="3" height="1"/>
<rect x="1038" y="842" width="3" height="1"/>
<rect x="1044" y="842" width="3" height="1"/>
<rect x="1050" y="842" width="3" height="1"/>
<rect x="1056" y="842" width="3" height="1"/>
<rect x="1062" y="842" width="3" height="1"/>
<rect x="1068" y="842" width="3" height="1"/>
<rect x="1074" y="842" width="3" height="1"/>
<rect x="1080" y="842" width="3" height="1"/>
<rect x="1086" y="842" width="3" height="1"/>
<rect x="1092" y="842" width="3" height="1"/>
<rect x="1098" y="842" width="3" height="1"/>
<rect x="1104" y="842" width="3" height="1"/>
<rect x="1110" y="842" width="3" height="1"/>
<rect x="1116" y="842" width="3" height="1"/>
<rect x="1122" y="842" width="3" height="1"/>
<rect x="1128" y="842" width="3" height="1"/>
<rect x="1134" y="842" width="3" height="1"/>
<rect x="1140" y="842" width="3" height="1"/>
<rect x="1146" y="842" width="3" height="1"/>
<rect x="1152" y="842" width="3" height="1"/>
<rect x="1158" y="842" width="3" height="1"/>
<rect x="1164" y="842" width="3" height="1"/>
<rect x="1170" y="842" width="3" height="1"/>
<rect x="1176" y="842" width="3" height="1"/>
<rect x="1182" y="842" width="3" height="1"/>
<rect x="1188" y="842" width="3" height="1"/>
<rect x="1194" y="842" width="3" height="1"/>
</g>
<polyline points="0,482.6 10.7,480.90000000000003 30.8,477.1 36.8,474.3 71,465.5 104,458.1 137.5,452.90000000000003 151.8,449.6 170.7,446.0 199,442.70000000000005 225,438.70000000000005 244,435.90000000000003 265.6,430.6 284.6,425.6 290,423.3 323.2,414.3 354,407.6 360,404.3 411,392.20000000000005 425,386.5 453.6,374.0 479.7,364.0 508,350.70000000000005 517.7,346.70000000000005 550.9,341.90000000000003 580,339.5 610.8,335.3 625,332.40000000000003 655.9,324.1 660.6,321.3 691.5,314.20000000000005 731.8,305.6 753,295.20000000000005 784,283.8 805.3,274.3 819.5,268.40000000000003 823.8,268.40000000000003" fill="none" stroke="#244646" stroke-width="2" stroke-linejoin="round" shape-rendering="crispEdges"/>
<g shape-rendering="crispEdges" fill="#ff0000">
<rect x="0" y="95" width="1201" height="3"/>
<rect x="0" y="123" width="1201" height="3"/>
<rect x="0" y="142" width="1201" height="3"/>
<rect x="1194" y="93" width="7" height="7"/>
</g>
<rect x="1197" y="96" width="1" height="1" fill="#fff" shape-rendering="crispEdges"/>
<text class="ax" x="1206.6" y="16.8">4776.20</text>
<text class="ax" x="1206.6" y="65.8">4699.70</text>
<text class="ax" x="1206.6" y="114.8">4623.20</text>
<text class="ax" x="1206.6" y="163.8">4546.70</text>
<text class="ax" x="1206.6" y="212.8">4471.70</text>
<text class="ax" x="1206.6" y="261.8">4395.20</text>
<text class="ax" x="1206.6" y="310.8">4318.70</text>
<text class="ax" x="1206.6" y="359.8">4243.70</text>
<text class="ax" x="1206.6" y="408.8">4167.20</text>
<text class="ax" x="1206.6" y="457.8">4090.70</text>
<text class="ax" x="1206.6" y="506.8">4014.20</text>
<text class="ax" x="1206.6" y="555.8">3939.20</text>
<text class="ax" x="1206.6" y="604.8">3862.70</text>
<text class="ax" x="1206.6" y="653.8">3786.20</text>
<rect x="1202" y="113" width="56" height="6" fill="#000" shape-rendering="crispEdges"/>
<clipPath id="cp"><rect x="1202" y="113" width="56" height="5"/></clipPath>
<text class="lb" x="1206.6" y="126" clip-path="url(#cp)">4607.27</text>
<rect x="1202" y="90" width="56" height="14" fill="#ff0000" shape-rendering="crispEdges"/>
<text class="lb" x="1206.6" y="101.6">4644.64</text>
<rect x="1202" y="118" width="56" height="14" fill="#ff0000" shape-rendering="crispEdges"/>
<text class="lb" x="1206.6" y="129.6">4601.00</text>
<rect x="1202" y="137" width="56" height="14" fill="#ff0000" shape-rendering="crispEdges"/>
<text class="lb" x="1206.6" y="148.6">4571.67</text>
<text class="ax" x="1203.2" y="684.2">67424</text>
<clipPath id="cz"><rect x="1202" y="828" width="20" height="15"/></clipPath>
<text class="ax" x="1203.2" y="841" clip-path="url(#cz)">0</text>
<rect x="0" y="852" width="1" height="5" fill="#a8f0ff" shape-rendering="crispEdges"/>
<text class="ax" x="21.6" y="858.6">28 Nov 16:00</text>
<text class="ax" x="117.6" y="858.6">4 Dec 16:00</text>
<text class="ax" x="213.6" y="858.6">10 Dec 12:00</text>
<text class="ax" x="309.6" y="858.6">16 Dec 08:00</text>
<text class="ax" x="405.6" y="858.6">22 Dec 07:00</text>
<text class="ax" x="501.6" y="858.6">27 Dec 04:00</text>
<text class="ax" x="597.6" y="858.6">2 Jan 20:00</text>
<text class="ax" x="693.6" y="858.6">8 Jan 16:00</text>
<text class="ax" x="789.6" y="858.6">14 Jan 12:00</text>
<text class="big" transform="translate(349,89.6) scale(0.966,1)" fill="#ff0000" stroke="#ff0000" stroke-width="0.5">GOLD_H4</text>
<text class="big" transform="translate(864.3,83.4) scale(0.966,1)" fill="#000080" stroke="#000080" stroke-width="0.5">4600~4645</text>
<text class="big" transform="translate(900.3,196.2) scale(0.966,1)" fill="#ff0000" stroke="#ff0000" stroke-width="0.5">4570</text>
</svg></body></html>
